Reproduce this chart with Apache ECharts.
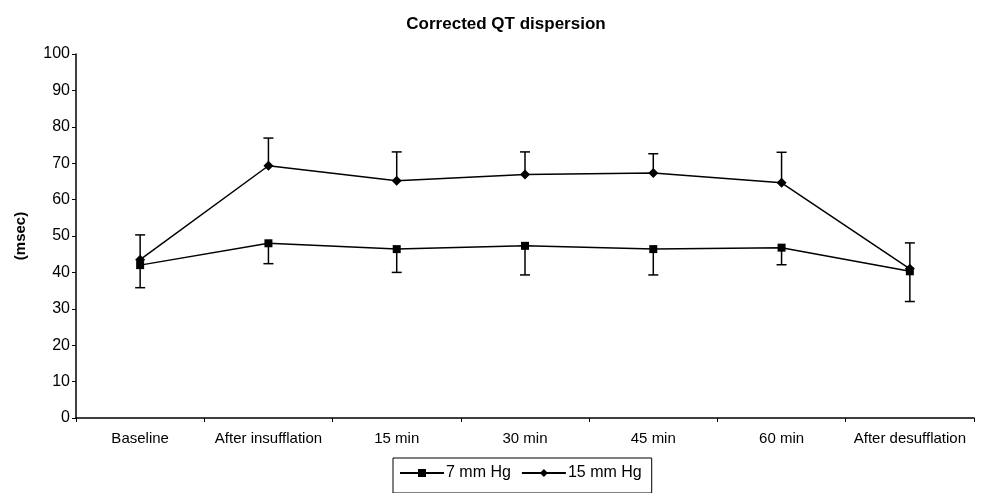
<!DOCTYPE html>
<html>
<head>
<meta charset="utf-8">
<script src="https://cdn.jsdelivr.net/npm/echarts@6/dist/echarts.min.js"></script>
<style>
  html, body { margin: 0; padding: 0; background: #fff; }
  #chart { width: 989px; height: 493px; }
</style>
</head>
<body>
<div id="chart"></div>
<script>
// categories on the x axis
const categories = ['Baseline', 'After insufflation', '15 min', '30 min', '45 min', '60 min', 'After desufflation']
// mean values (msec)
const mean7 = [42, 48, 46.4, 47.3, 46.4, 46.8, 40.3]
const mean15 = [43.5, 69.3, 65.2, 66.9, 67.3, 64.6, 41]
// error bar ends (7 mm Hg drawn downward, 15 mm Hg upward)
const low7 = [35.8, 42.4, 40.0, 39.3, 39.3, 42.1, 32.0]
const high15 = [50.3, 76.9, 73.1, 73.1, 72.6, 73.0, 48.1]
const yTicks = [0, 100, 10]

const font = 'Liberation Sans, Arial, sans-serif'

// custom series that draws a vertical whisker with a cap
function errorBar(name, means, ends) {
  return {
    type: 'custom',
    name: name + ' err',
    z: 1,
    silent: true,
    renderItem: function (params, api) {
      const i = api.value(0)
      const p0 = api.coord([i, api.value(1)])
      const p1 = api.coord([i, api.value(2)])
      const cap = 5
      return {
        type: 'group',
        children: [
          { type: 'line', shape: { x1: p0[0], y1: p0[1], x2: p1[0], y2: p1[1] }, style: { stroke: '#000', lineWidth: 1.5 } },
          { type: 'line', shape: { x1: p1[0] - cap, y1: p1[1], x2: p1[0] + cap, y2: p1[1] }, style: { stroke: '#000', lineWidth: 1.5 } }
        ]
      }
    },
    data: means.map((m, i) => [i, m, ends[i]])
  }
}

const chart = echarts.init(document.getElementById('chart'))
chart.setOption({
  animation: false,
  title: {
    text: 'Corrected QT dispersion',
    left: 501,
    textAlign: 'center',
    top: 11,
    textStyle: { fontFamily: font, fontWeight: 900, fontSize: 17, color: '#000' }
  },
  grid: { left: 76, right: 15, top: 54, bottom: 75, containLabel: false },
  legend: {
    top: 458,
    left: 393,
    padding: [7, 10, 12, 6],
    borderColor: '#000',
    borderWidth: 1,
    itemGap: 10,
    itemWidth: 44,
    itemHeight: 10,
    textStyle: { fontFamily: font, fontSize: 16, color: '#000', padding: [0, 0, 0, -3] },
    data: ['7 mm Hg', '15 mm Hg']
  },
  xAxis: {
    type: 'category',
    data: categories,
    boundaryGap: true,
    axisLine: { lineStyle: { color: '#000', width: 1.5 } },
    axisTick: { show: true, length: 4, lineStyle: { color: '#000' } },
    axisLabel: { interval: 0, color: '#000', fontFamily: font, fontSize: 15, margin: 13 }
  },
  yAxis: {
    type: 'value',
    min: yTicks[0],
    max: yTicks[1],
    interval: yTicks[2],
    name: '(msec)',
    nameLocation: 'middle',
    nameGap: 48,
    nameRotate: 90,
    nameTextStyle: { fontFamily: font, fontWeight: 'bold', fontSize: 15, color: '#000' },
    splitLine: { show: false },
    axisLine: { show: true, lineStyle: { color: '#000', width: 1.5 } },
    axisTick: { show: true, length: 4, lineStyle: { color: '#000' } },
    axisLabel: { color: '#000', fontFamily: font, fontSize: 16, margin: 6 }
  },
  series: [
    errorBar('7 mm Hg', mean7, low7),
    errorBar('15 mm Hg', mean15, high15),
    {
      name: '7 mm Hg',
      type: 'line',
      data: mean7,
      z: 3,
      symbol: 'rect',
      symbolSize: 8,
      lineStyle: { color: '#000', width: 1.5 },
      itemStyle: { color: '#000' }
    },
    {
      name: '15 mm Hg',
      type: 'line',
      data: mean15,
      z: 3,
      symbol: 'diamond',
      symbolSize: 10,
      lineStyle: { color: '#000', width: 1.5 },
      itemStyle: { color: '#000' }
    }
  ]
})
</script>
</body>
</html>
